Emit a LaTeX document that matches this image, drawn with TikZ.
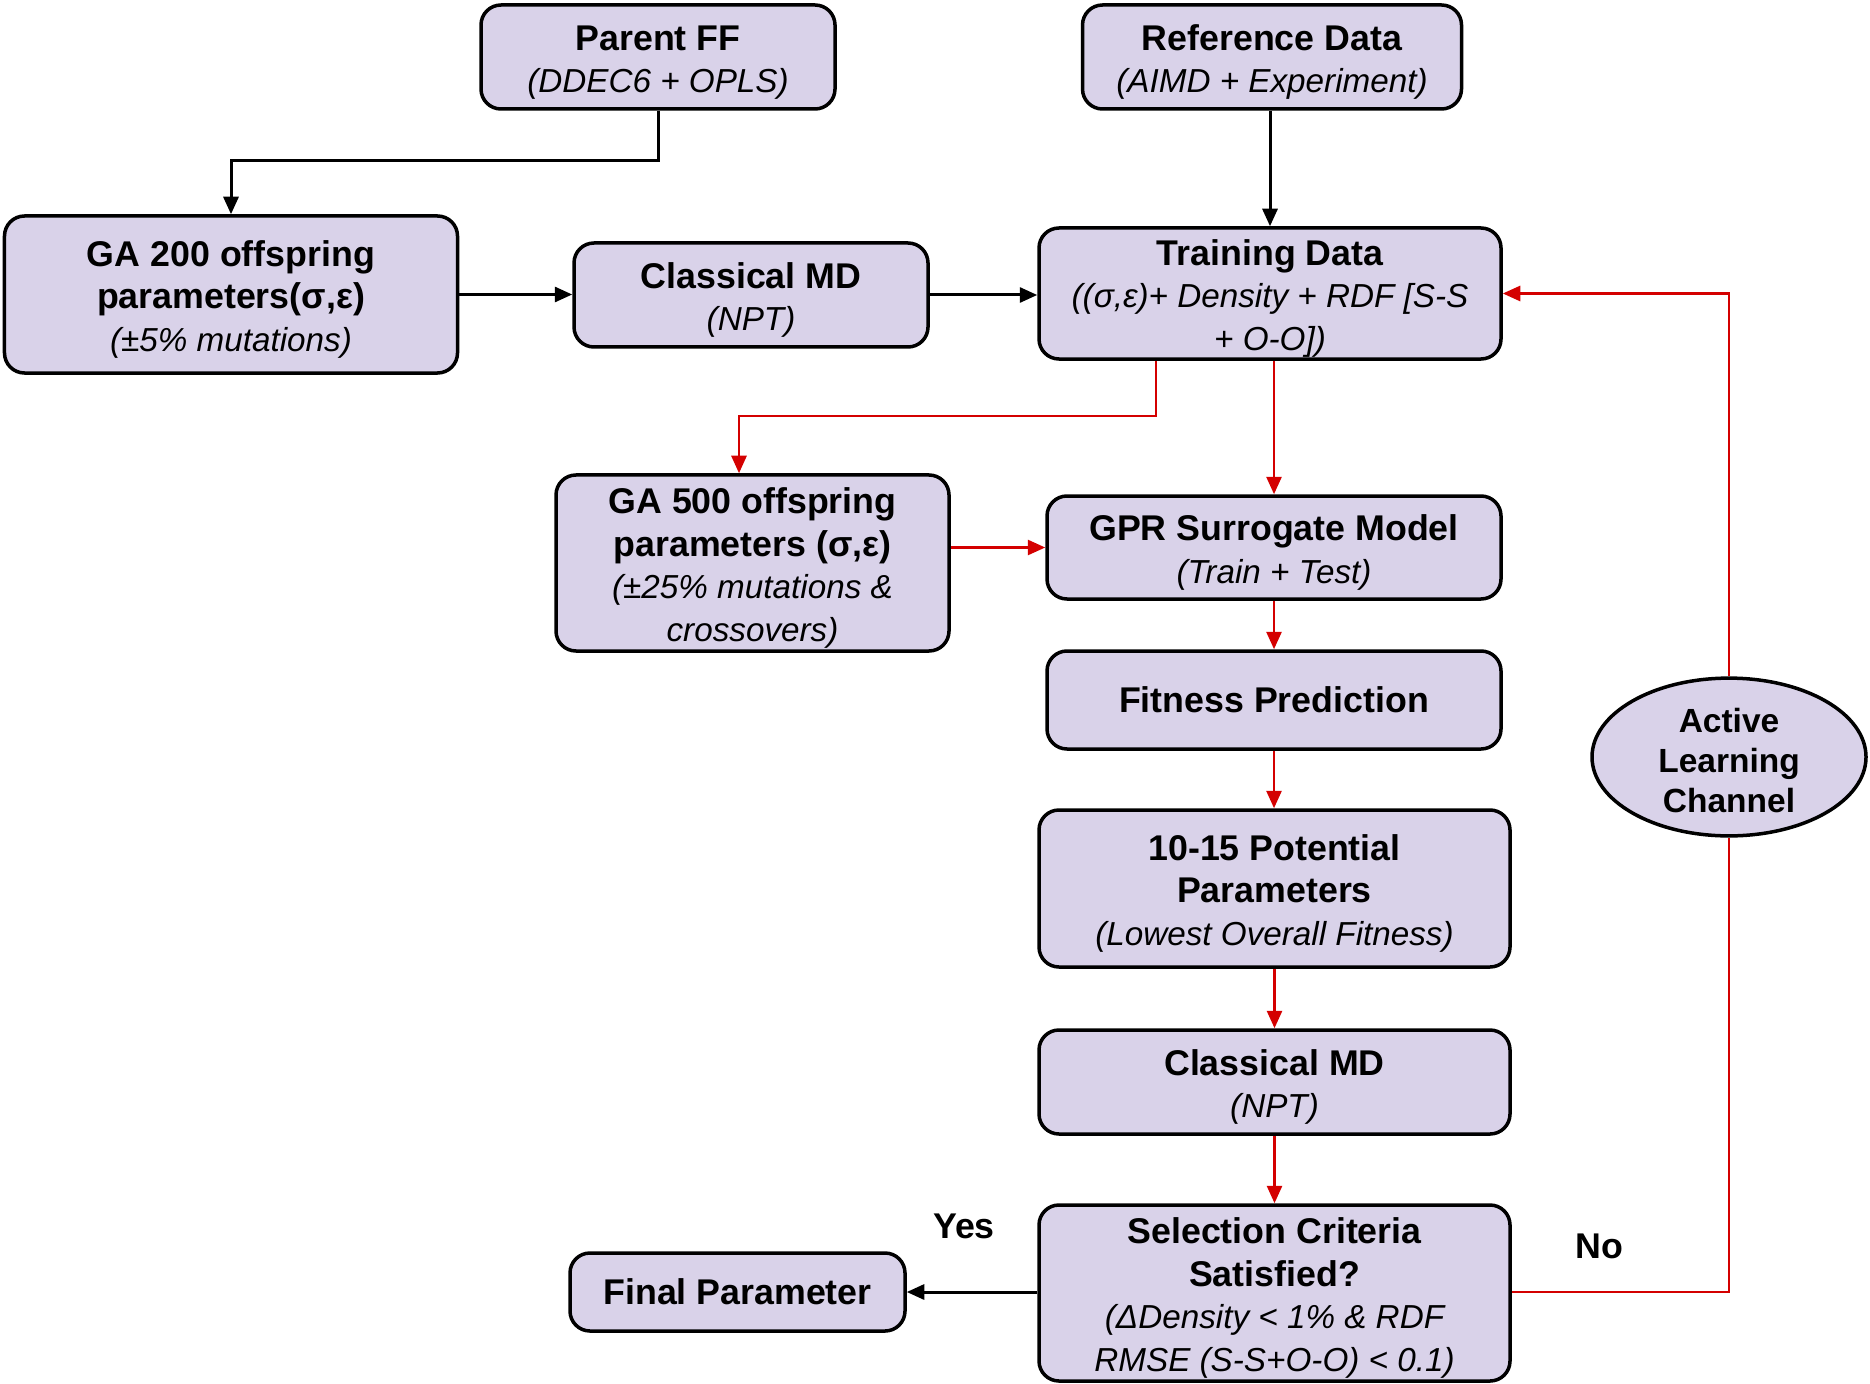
\documentclass[tikz,border=0pt]{standalone}
\usepackage{fontspec}
\setmainfont{Liberation Sans}
\usetikzlibrary{arrows.meta,shapes.geometric}
\definecolor{boxfill}{HTML}{D9D2E9}
\definecolor{flowred}{HTML}{D40000}
\newcommand\boxtitle{\fontsize{14.3}{17}\selectfont\bfseries}
\newcommand\boxsub{\fontsize{13.3}{17}\selectfont\itshape}
\newcommand\tstrut{\rule{0pt}{14.3pt}}
\tikzset{
  box/.style={draw=black, line width=1.4pt, fill=boxfill, rounded corners=8pt,
    align=center, inner sep=0pt, font=\fontsize{14.3}{17}\selectfont},
  blk/.style={draw=black, line width=1.2pt, -{Triangle[length=7pt,width=6pt]}},
  redarr/.style={draw=flowred, line width=1.1pt, -{Triangle[length=7pt,width=6pt]}},
  redline/.style={draw=flowred, line width=1.1pt},
  lbl/.style={font=\boxtitle, inner sep=0pt}
}
\begin{document}
\begin{tikzpicture}[x=0.4pt,y=-0.4pt]
\path[use as bounding box, fill=white] (0,0) rectangle (1870,1384);

\node[box, minimum width=141.6pt, minimum height=41.6pt] (parent) at (658,57)
  {\tstrut{\boxtitle Parent FF}\\{\boxsub (DDEC6 + OPLS)}};
\node[box, minimum width=151.6pt, minimum height=41.6pt] (ref) at (1272,57)
  {\tstrut{\boxtitle Reference Data}\\{\boxsub (AIMD + Experiment)}};
\node[box, minimum width=181.2pt, minimum height=62.8pt] (ga200) at (231,294.5)
  {\tstrut{\boxtitle GA 200 offspring}\\{\boxtitle parameters(σ,ε)}\\{\boxsub (±5\% mutations)}};
\node[box, minimum width=141.6pt, minimum height=41.6pt] (cmd1) at (751,295)
  {\tstrut{\boxtitle Classical MD}\\{\boxsub (NPT)}};
\node[box, minimum width=184.8pt, minimum height=52.4pt] (train) at (1270,293.5)
  {\tstrut{\boxtitle Training Data}\\{\boxsub ((σ,ε)+ Density + RDF [S-S}\\{\boxsub + O-O])}};
\node[box, minimum width=157.2pt, minimum height=70.4pt] (ga500) at (752.5,563)
  {\tstrut{\boxtitle GA 500 offspring}\\{\boxtitle parameters (σ,ε)}\\{\boxsub (±25\% mutations \&}\\{\boxsub crossovers)}};
\node[box, minimum width=181.6pt, minimum height=41.2pt] (gpr) at (1274,547.5)
  {\tstrut{\boxtitle GPR Surrogate Model}\\{\boxsub (Train + Test)}};
\node[box, minimum width=181.6pt, minimum height=39.2pt] (fit) at (1274,700)
  {{\boxtitle Fitness Prediction}};
\node[box, minimum width=188.4pt, minimum height=62.8pt] (pot) at (1274.5,888.5)
  {\tstrut{\boxtitle 10-15 Potential}\\{\boxtitle Parameters}\\{\boxsub (Lowest Overall Fitness)}};
\node[box, minimum width=188.4pt, minimum height=41.6pt] (cmd2) at (1274.5,1082)
  {\tstrut{\boxtitle Classical MD}\\{\boxsub (NPT)}};
\node[box, minimum width=188.4pt, minimum height=70.4pt] (sel) at (1274.5,1293)
  {\tstrut{\boxtitle Selection Criteria}\\{\boxtitle Satisfied?}\\{\boxsub (ΔDensity < 1\% \& RDF}\\{\boxsub RMSE (S-S+O-O) < 0.1)}};
\node[box, minimum width=134pt, minimum height=31.2pt] (final) at (737.5,1292)
  {{\boxtitle Final Parameter}};
\node[box, ellipse, rounded corners=0pt, minimum width=109.6pt, minimum height=52.8pt,
  font=\fontsize{13.4}{16}\selectfont\bfseries] (al) at (1729,757)
  {\rule{0pt}{12.5pt}Active\\Learning\\Channel};

\node[lbl] (yes) at (964,1226) {Yes};
\node[lbl] (no) at (1599,1246) {No};

\coordinate (pb) at (658,161);
\coordinate (tb) at (1156,416);
\coordinate (gb) at (739,416);

\draw[blk] (parent.south) -- (pb) -| (ga200.north);
\draw[blk] (ref.south -| train.north) -- (train.north);
\draw[blk] (ga200.east) -- (ga200.east -| cmd1.west);
\draw[blk] (cmd1.east) -- (cmd1.east -| train.west);
\draw[redarr] (train.south -| tb) -- (tb) -- (gb) -- (gb |- ga500.north);
\draw[redarr] (train.south -| gpr.north) -- (gpr.north);
\draw[redarr] (gpr.west -| ga500.east) -- (gpr.west);
\draw[redarr] (gpr.south) -- (fit.north);
\draw[redarr] (fit.south) -- (fit.south |- pot.north);
\draw[redarr] (pot.south) -- (cmd2.north);
\draw[redarr] (cmd2.south) -- (sel.north);
\draw[blk] (sel.west |- final.east) -- (final.east);
\draw[redline] (sel.east |- final.east) -| (al.south);
\draw[redarr] (al.north) |- (train.east);
\end{tikzpicture}
\end{document}
